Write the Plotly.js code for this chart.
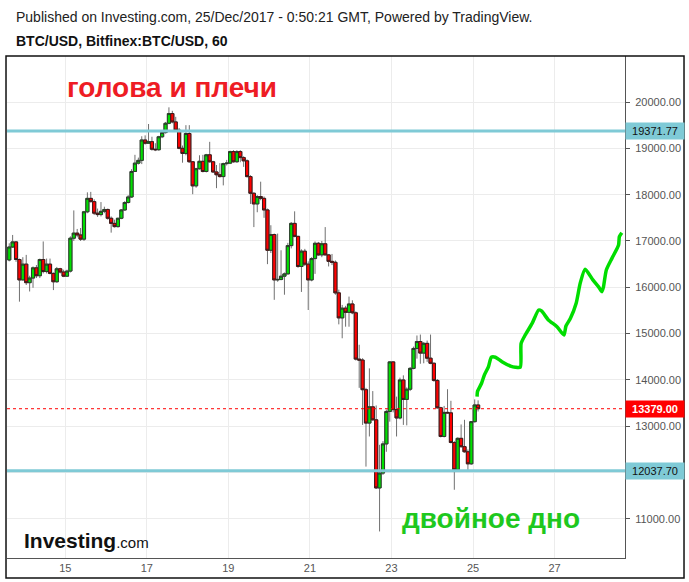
<!DOCTYPE html>
<html>
<head>
<meta charset="utf-8">
<script src="https://cdn.plot.ly/plotly-3.0.1.min.js"></script>
<style>
html,body{margin:0;padding:0;background:#fff;}
#chart{width:689px;height:582px;}
</style>
</head>
<body>
<div id="chart"></div>
<script>
// ---- Data (BTC/USD, 2-hour bars) ----
const startDay = 13.625;      // Dec 13, 15:00
const hoursPerBar = 2;
const opens = [16590,16870,16980,16600,16160,16500,16100,16200,16420,16250,16600,16340,16500,16300,16120,16400,16330,16240,16350,17060,
17170,17130,17040,17630,17920,17850,17600,17570,17640,17680,17490,17380,17310,17490,17670,17830,17950,18500,18680,18740,
19180,19110,19144,18980,18970,19250,19340,19540,19750,19570,19390,19000,18890,19320,18710,18190,18560,18720,18500,18860,
18710,18490,18430,18390,18670,18680,18930,18710,18930,18800,18730,18390,18030,17800,17960,17920,17670,16800,17140,16160,
16170,16240,16290,16900,17380,17100,16450,16780,16500,16160,16620,16950,16700,16940,16700,16560,16540,15880,15340,15550,
15460,15640,15450,14450,14430,13790,13070,13420,13140,11670,11990,12620,13320,14390,13360,13180,14000,13580,13800,14250,
14680,14830,14580,14790,14470,14360,13990,13400,12780,13300,13290,12650,12060,12740,12560,12450,12190,13100,13460];
const highs = [16950,17130,17000,16620,16650,16700,16250,16450,16480,16620,16990,16620,16620,16320,16440,16420,16380,16380,17100,17660,
17260,17280,17650,18050,18060,17900,17700,17840,17740,17700,17530,17460,17500,17690,17860,17990,18550,18860,18800,19260,
19280,19525,19250,19110,19270,19360,19570,19885,19810,19680,19440,19060,19500,19500,18720,18580,18850,18860,18880,19140,
18730,18640,18680,18690,18750,18950,18960,18960,18960,18830,18760,18420,18050,17990,18280,17960,17700,17340,17160,17160,
16800,16320,16960,17410,17640,17110,16820,16830,16560,16650,16990,16980,17000,17300,16720,16720,16580,15950,15620,15600,
15800,15720,15480,14760,14470,13830,14250,13760,13450,12600,12680,13360,14400,14400,13640,14050,14100,13840,14280,14720,
14960,14980,14820,14850,14980,14380,14020,13420,13440,13800,13550,12680,12760,13040,13140,12500,13110,13580,13560];
const lows = [16560,16850,16550,15690,16150,16050,15910,15990,16200,16200,16300,16300,16280,15940,16100,16300,16220,16230,16320,17000,
17080,17000,17000,17600,17830,17560,17520,17530,17600,17460,17180,17290,17290,17470,17650,17810,17930,18490,18650,18660,
19080,19100,18950,18940,18950,19220,19320,19520,19540,19370,18980,18690,18850,18690,18010,18150,18540,18480,18480,18690,
18470,18140,18370,18200,18630,18660,18690,18690,18700,18600,18370,17800,17300,17620,17880,17500,16500,16740,15730,16120,
16150,15840,16280,16840,17080,16420,15900,16460,15510,16130,16290,16680,16650,16690,16450,16480,15840,15200,14900,15150,
15150,15420,14420,13830,13030,12130,12780,13120,11650,10730,11950,12450,13100,13300,12780,13150,13030,13020,13760,14230,
14460,14350,14360,14390,14340,13960,13380,12760,12760,13270,12630,11630,12040,12540,12430,12020,12170,13080,13320];
const closes = [16870,16980,16600,16160,16500,16100,16200,16420,16250,16600,16340,16500,16300,16120,16400,16330,16240,16350,17060,17170,
17130,17040,17630,17920,17850,17600,17570,17640,17680,17490,17380,17310,17490,17670,17830,17950,18500,18680,18740,19180,
19110,19144,18980,18970,19250,19340,19540,19750,19570,19390,19000,18890,19320,18710,18190,18560,18720,18500,18860,18710,
18490,18430,18390,18670,18680,18930,18710,18930,18800,18730,18390,18030,17800,17960,17920,17670,16800,17140,16160,16170,
16240,16290,16900,17380,17100,16450,16780,16500,16160,16620,16950,16700,16940,16700,16560,16540,15880,15340,15550,15460,
15640,15450,14450,14430,13790,13070,13420,13140,11670,11990,12620,13320,14390,13360,13180,14000,13580,13800,14250,14680,
14830,14580,14790,14470,14360,13990,13400,12780,13300,13290,12650,12060,12740,12560,12450,12190,13100,13460,13379];

// hand-drawn forecast line (day of December, price)
const forecastDays = [25.10,25.11,25.21,25.28,25.38,25.45,25.55,25.71,25.92,26.04,26.16,26.18,26.28,26.45,26.61,26.68,26.85,27.06,27.23,27.28,27.39,27.53,27.63,27.75,27.94,28.08,28.16,28.20,28.27,28.41,28.57,28.59,28.65];
const forecastPrices = [13640,13750,13930,14110,14290,14490,14490,14395,14300,14275,14275,14790,14970,15220,15510,15490,15295,15150,14970,15165,15330,15655,16090,16390,16160,16010,15905,16010,16375,16630,16915,17095,17180];

const resistance = 19371.77;
const support = 12037.70;
const lastPrice = 13379.00;
const dayTicks = [15,17,19,21,23,25,27];
const priceTicks = [11000,12000,13000,14000,15000,16000,17000,18000,19000,20000];
const hiddenPriceLabels = [12000];   // covered by the support tag in the original

// ---- Build ----
const times = opens.map((_, i) => startDay + i * hoursPerBar / 24);
const bodyHigh = opens.map((o, i) => Math.max(o, closes[i]));
const bodyLow = opens.map((o, i) => Math.min(o, closes[i]));

const xMin = 13.57, xMax = 28.728;
const FONT = 'Liberation Sans, Arial, sans-serif';

const wicks = {
  type: 'candlestick', x: times, open: opens, high: highs, low: lows, close: closes,
  increasing: {line: {color: '#707070', width: 1}, fillcolor: 'rgba(0,0,0,0)'},
  decreasing: {line: {color: '#707070', width: 1}, fillcolor: 'rgba(0,0,0,0)'},
  hoverinfo: 'skip', showlegend: false
};
const bodies = {
  type: 'candlestick', x: times, open: opens, high: bodyHigh, low: bodyLow, close: closes,
  increasing: {line: {color: '#2b3a2b', width: 1}, fillcolor: '#00e000'},
  decreasing: {line: {color: '#3a1a1a', width: 1}, fillcolor: '#ff0000'},
  hoverinfo: 'skip', showlegend: false
};
const forecast = {
  type: 'scatter', mode: 'lines', x: forecastDays, y: forecastPrices,
  line: {color: '#00dd00', width: 3.5, shape: 'spline', smoothing: 0.6},
  hoverinfo: 'skip', showlegend: false
};

const hline = (y, color, width, dash) => ({
  type: 'line', xref: 'paper', x0: 0, x1: 1, yref: 'y', y0: y, y1: y,
  line: {color: color, width: width, dash: dash || 'solid'}, layer: 'above'
});

const priceTag = (y, bg, fg, bold) => ({
  xref: 'paper', x: 1, xanchor: 'left', yref: 'y', y: y, yanchor: 'middle',
  text: bold ? '<b>' + y.toFixed(2) + '</b>' : y.toFixed(2),
  showarrow: false, bgcolor: bg, borderpad: 1, width: 56, height: 14, align: 'center',
  font: {family: FONT, size: 11, color: fg}
});

const layout = {
  width: 689, height: 582,
  margin: {l: 7, r: 64, t: 56, b: 24},
  paper_bgcolor: '#ffffff', plot_bgcolor: '#ffffff',
  showlegend: false,
  dragmode: false,
  boxgap: 0.04, boxgroupgap: 0.04, boxmode: 'overlay',
  xaxis: {
    type: 'linear', range: [xMin, xMax],
    tickvals: dayTicks, ticktext: dayTicks.map(String),
    showgrid: true, gridcolor: '#ececec', gridwidth: 1,
    zeroline: false, showline: true, linecolor: '#555', linewidth: 1,
    ticks: '', tickfont: {family: FONT, size: 11, color: '#555'},
    rangeslider: {visible: false}, fixedrange: true
  },
  yaxis: {
    side: 'right', range: [10157, 20993],
    tickvals: priceTicks,
    ticktext: priceTicks.map(v => hiddenPriceLabels.includes(v) ? '' : v.toFixed(2)),
    showgrid: true, gridcolor: '#ececec', gridwidth: 1,
    zeroline: false, showline: true, linecolor: '#555', linewidth: 1,
    ticks: 'outside', ticklen: 4, tickcolor: '#555', ticklabelstandoff: 3,
    tickfont: {family: FONT, size: 11, color: '#555'},
    fixedrange: true
  },
  shapes: [
    hline(resistance, '#7fcad6', 3),
    hline(support, '#7fcad6', 3),
    hline(lastPrice, '#ff0000', 1, 'dot'),
    {type: 'rect', xref: 'paper', yref: 'paper', x0: -0.0016, x1: 1.0955, y0: -0.0398, y1: 1,
     line: {color: '#111', width: 1.5}, fillcolor: 'rgba(0,0,0,0)', layer: 'above'}
  ],
  annotations: [
    {xref: 'paper', yref: 'paper', x: 0.0113, y: 1.0777, xanchor: 'left', yanchor: 'middle', showarrow: false,
     text: 'Published on Investing.com, 25/Dec/2017 - 0:50:21 GMT, Powered by TradingView.',
     font: {family: FONT, size: 14, color: '#222'}},
    {xref: 'paper', yref: 'paper', x: 0.0113, y: 1.0299, xanchor: 'left', yanchor: 'middle', showarrow: false,
     text: '<b>BTC/USD, Bitfinex:BTC/USD, 60</b>',
     font: {family: FONT, size: 14, color: '#111'}},
    {xref: 'paper', yref: 'paper', x: 0.267, y: 0.938, xanchor: 'center', yanchor: 'middle', showarrow: false,
     text: '<b>голова и плечи</b>',
     font: {family: FONT, size: 28, color: '#ee1c24'}},
    {xref: 'paper', yref: 'paper', x: 0.783, y: 0.0777, xanchor: 'center', yanchor: 'middle', showarrow: false,
     text: '<b>двойное дно</b>',
     font: {family: FONT, size: 28, color: '#1ec81e'}},
    {xref: 'paper', yref: 'paper', x: 0.0243, y: 0.0339, xanchor: 'left', yanchor: 'middle', showarrow: false,
     text: '<b>Investing</b><span style="font-size:15px">.com</span>',
     font: {family: 'Liberation Sans Narrow, Liberation Sans, Arial, sans-serif', size: 21, color: '#111'}},
    priceTag(resistance, '#7fcad6', '#111', false),
    priceTag(lastPrice, '#ff0000', '#ffffff', true),
    priceTag(support, '#7fcad6', '#111', false)
  ]
};

Plotly.newPlot('chart', [wicks, bodies, forecast], layout, {staticPlot: true, displayModeBar: false});
</script>
</body>
</html>
